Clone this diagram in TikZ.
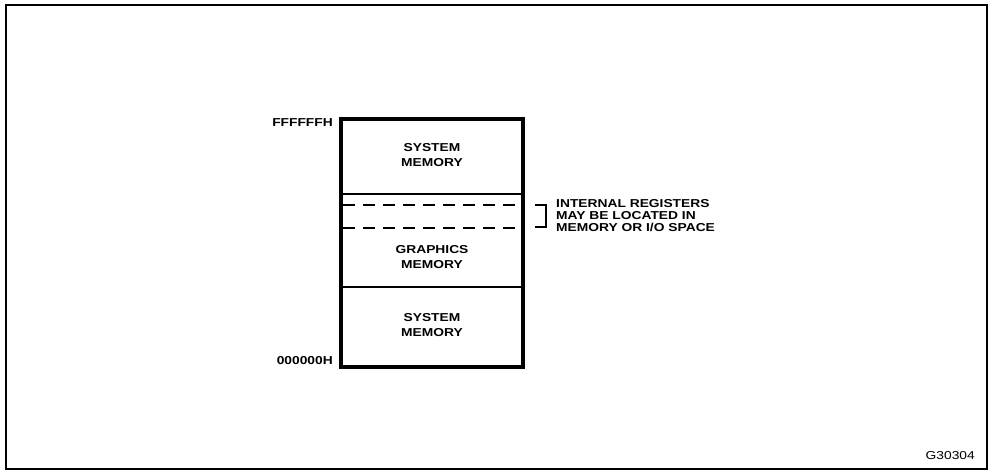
\documentclass[tikz,border=0pt]{standalone}
\usepackage{fontspec}
\setmainfont{Liberation Sans}[FakeStretch=1.2]
\begin{document}
\begin{tikzpicture}[x=1pt,y=-1pt,
  lbl/.style={font=\bfseries\fontsize{11.5}{15}\selectfont, inner sep=0pt, align=center},
  note/.style={font=\bfseries\fontsize{11.5}{12}\selectfont, inner sep=0pt, align=left},
  dashline/.style={line width=1.8pt, dash pattern=on 12pt off 8pt},
  divider/.style={line width=1.8pt}]
\useasboundingbox (0,0) rectangle (992,471);
\draw[line width=2pt] (6,5) rectangle (987,469);
% memory box
\coordinate (tl) at (341,119);
\coordinate (br) at (523,367);
\draw[line width=3.2pt] (tl) rectangle (br);
\coordinate (d1l) at (341,194); \coordinate (d1r) at (523,194);
\coordinate (d2l) at (341,287); \coordinate (d2r) at (523,287);
\draw[divider] (d1l) -- (d1r);
\draw[divider] (d2l) -- (d2r);
\coordinate (e1l) at (343,205); \coordinate (e1r) at (521,205);
\coordinate (e2l) at (343,228); \coordinate (e2r) at (521,228);
\draw[dashline] (e1l) -- (e1r);
\draw[dashline] (e2l) -- (e2r);
% labels
\node[lbl] (sys1) at (432,155) {SYSTEM\\MEMORY};
\node[lbl] (gfx) at (432,257) {GRAPHICS\\MEMORY};
\node[lbl] (sys2) at (432,325) {SYSTEM\\MEMORY};
\node[lbl, anchor=east] (top) at (333,123) {FFFFFFH};
\node[lbl, anchor=east] (bot) at (333,361) {000000H};
% bracket
\coordinate (b1) at (535,205); \coordinate (b2) at (546,205);
\coordinate (b3) at (546,227); \coordinate (b4) at (535,227);
\draw[line width=1.8pt] (b1) -- (b2) -- (b3) -- (b4);
\node[note, anchor=west] (reg) at (556,216) {INTERNAL REGISTERS\\MAY BE LOCATED IN\\MEMORY OR I/O SPACE};
\node[font=\fontsize{11.5}{12}\selectfont, inner sep=0pt, anchor=east] (fig) at (975,456) {G30304};
\end{tikzpicture}
\end{document}
